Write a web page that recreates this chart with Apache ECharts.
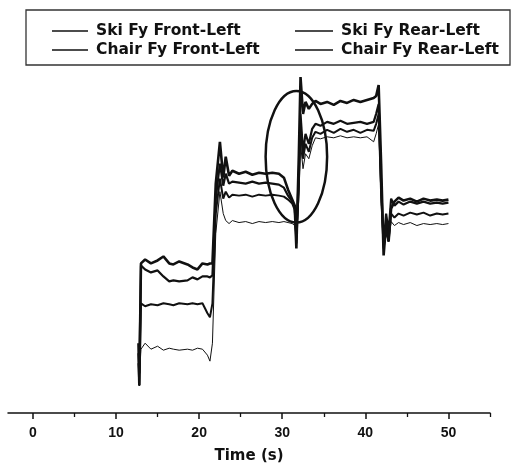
<!DOCTYPE html>
<html>
<head>
<meta charset="utf-8">
<script src="https://cdn.jsdelivr.net/npm/echarts@6/dist/echarts.min.js"></script>
<style>
  html, body { margin: 0; padding: 0; background: #fff; }
  #chart { width: 520px; height: 469px; }
</style>
</head>
<body>
<div id="chart"></div>
<script>
// time samples (s), shared by the four traces
const time = [12.7, 12.8, 13.0, 13.5, 14.2, 15.0, 15.7, 16.4, 16.9, 17.6, 18.6, 19.2, 19.8, 20.4, 21.0, 21.3, 21.6,
  22.0, 22.5, 22.9, 23.2, 23.6, 24.0, 24.8, 25.6, 26.4, 27.2, 28.0, 28.8, 29.6, 30.2, 30.7, 31.2, 31.5, 31.7,
  32.0, 32.2, 32.5, 32.8, 33.2, 33.6, 34.0, 34.6, 35.4, 36.2, 37.0, 37.8, 38.6, 39.4, 40.2, 41.0, 41.3, 41.6,
  41.9, 42.2, 42.5, 42.8, 43.1, 43.5, 44.0, 44.6, 45.4, 46.2, 47.0, 47.8, 48.6, 49.3, 50.0];

// force traces (arbitrary units, y axis not shown in the figure)
const skiFront = [70, 28, 150, 154, 150, 153, 157, 150, 149, 152, 149, 146, 144, 150, 149, 150, 150,
  230, 272, 236, 257, 238, 243, 240, 242, 239, 241, 240, 241, 240, 236, 224, 214, 208, 165,
  260, 337, 300, 312, 305, 310, 313, 310, 312, 309, 313, 311, 314, 312, 314, 316, 318, 329,
  250, 158, 190, 172, 205, 212, 216, 213, 215, 212, 215, 213, 214, 213, 214];
const chairFront = [60, 40, 148, 144, 141, 143, 137, 132, 133, 132, 133, 136, 134, 137, 137, 136, 138,
  215, 250, 228, 240, 230, 232, 231, 230, 232, 230, 231, 230, 229, 226, 218, 212, 206, 180,
  240, 300, 262, 280, 270, 285, 290, 288, 292, 290, 293, 290, 291, 292, 290, 292, 300, 310,
  230, 170, 200, 182, 215, 208, 212, 209, 212, 210, 212, 210, 211, 210, 211];
const skiRear = [50, 27, 110, 107, 109, 108, 110, 109, 108, 110, 109, 110, 109, 110, 100, 96, 110,
  200, 235, 215, 222, 216, 219, 218, 219, 217, 219, 218, 219, 218, 217, 214, 210, 204, 170,
  230, 290, 255, 270, 262, 276, 282, 280, 284, 281, 285, 282, 284, 281, 284, 283, 290, 300,
  220, 165, 185, 172, 200, 196, 200, 198, 201, 199, 201, 198, 200, 199, 200];
const chairRear = [45, 35, 64, 70, 64, 67, 63, 65, 64, 63, 64, 63, 65, 64, 58, 52, 70,
  180, 222, 200, 193, 190, 193, 191, 192, 190, 192, 191, 192, 191, 192, 191, 190, 188, 175,
  215, 270, 245, 260, 255, 268, 276, 275, 277, 276, 278, 276, 277, 276, 277, 272, 280, 290,
  210, 165, 180, 172, 192, 188, 191, 189, 191, 188, 190, 189, 190, 189, 190];

const names = ["Ski Fy Front-Left", "Ski Fy Rear-Left", "Chair Fy Front-Left", "Chair Fy Rear-Left"];
const majorTicks = [0, 10, 20, 30, 40, 50];
const minorTicks = [5, 15, 25, 35, 45, 55];
// circled region: centre time, centre value, half width (s), half height
const circled = [[31.7, 257, 3.7, 66]];

const pair = (ys) => time.map((t, i) => [t, ys[i]]);

const ink = "#111";
const legendText = { fontFamily: "DejaVu Sans", fontWeight: "bold", fontSize: 15.5, color: ink, padding: [0, 0, 0, 3] };

let myChart = echarts.init(document.getElementById("chart"));
myChart.setOption({
  animation: false,
  backgroundColor: "#fff",
  grid: { left: 8, right: 30, top: 70, bottom: 55 },
  graphic: [
    {
      type: "rect",
      shape: { x: 26, y: 10, width: 484, height: 55 },
      style: { fill: "none", stroke: "#333", lineWidth: 1.3 }
    }
  ],
  legend: [
    {
      data: [names[0], names[2]],
      orient: "vertical",
      left: 47, top: 18,
      icon: "rect", itemWidth: 36, itemHeight: 1.5, itemGap: 3,
      textStyle: legendText
    },
    {
      data: [names[1], names[3]],
      orient: "vertical",
      left: 290, top: 18,
      icon: "rect", itemWidth: 38, itemHeight: 1.5, itemGap: 3,
      textStyle: legendText
    }
  ],
  xAxis: [
    {
      type: "value",
      min: -3, max: 55,
      name: "Time (s)",
      nameLocation: "middle",
      nameGap: 36,
      nameTextStyle: { fontFamily: "DejaVu Sans", fontWeight: "bold", fontSize: 15, color: ink },
      axisLine: { lineStyle: { color: ink, width: 1.5 } },
      axisTick: { show: true, length: 6, customValues: majorTicks, lineStyle: { color: ink, width: 1.5 } },
      axisLabel: {
        customValues: majorTicks, margin: 13,
        fontFamily: "Liberation Sans", fontWeight: "bold", fontSize: 14, color: ink
      },
      splitLine: { show: false }
    },
    {
      type: "value",
      min: -3, max: 55,
      position: "bottom",
      axisLine: { show: false },
      axisTick: { show: true, length: 4, customValues: minorTicks, lineStyle: { color: ink, width: 1.3 } },
      axisLabel: { show: false },
      splitLine: { show: false }
    }
  ],
  yAxis: { type: "value", min: 0, max: 344, show: false },
  series: [
    { name: names[0], type: "line", data: pair(skiFront), showSymbol: false, color: ink, lineStyle: { width: 2.6, color: ink } },
    { name: names[2], type: "line", data: pair(chairFront), showSymbol: false, color: ink, lineStyle: { width: 2.2, color: ink } },
    { name: names[1], type: "line", data: pair(skiRear), showSymbol: false, color: ink, lineStyle: { width: 2, color: ink } },
    { name: names[3], type: "line", data: pair(chairRear), showSymbol: false, color: ink, lineStyle: { width: 1, color: ink } },
    {
      type: "custom",
      data: circled,
      silent: true,
      renderItem: (params, api) => {
        const c = api.coord([api.value(0), api.value(1)]);
        const s = api.size([api.value(2), api.value(3)]);
        return {
          type: "ellipse",
          shape: { cx: c[0], cy: c[1], rx: s[0], ry: s[1] },
          style: { fill: "none", stroke: ink, lineWidth: 2.5 }
        };
      }
    }
  ]
});
</script>
</body>
</html>
